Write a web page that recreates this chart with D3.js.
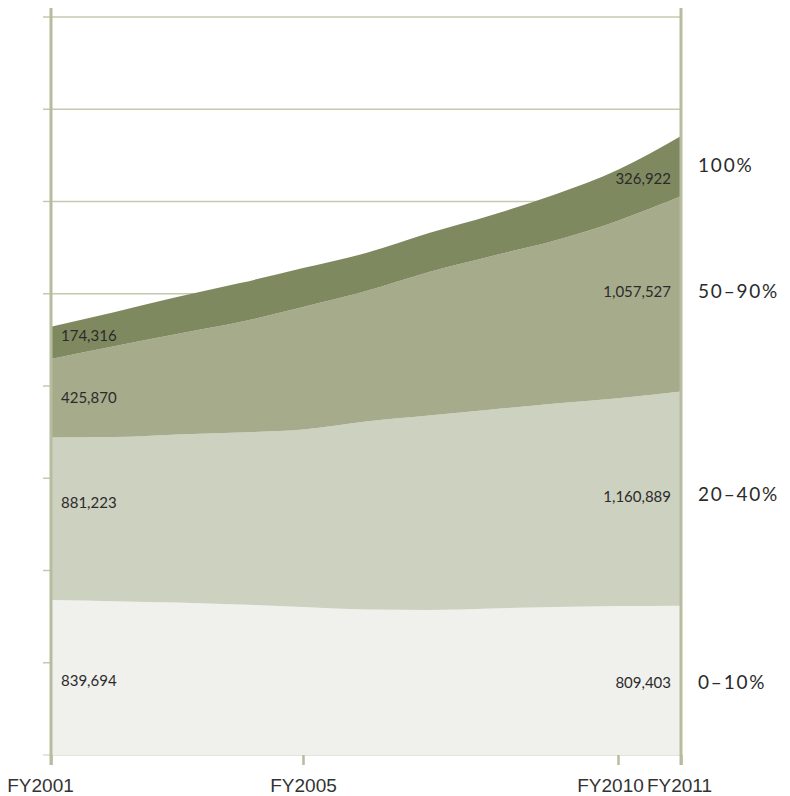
<!DOCTYPE html>
<html>
<head>
<meta charset="utf-8">
<script src="https://cdn.jsdelivr.net/npm/d3@7"></script>
<style>
  html, body { margin: 0; padding: 0; background: #fff; }
  svg { display: block; font-family: Lato, "Open Sans", sans-serif; }
</style>
</head>
<body>
<svg id="chart" width="790" height="796"></svg>
<script>
// Fiscal years on the x axis
const years = [2001, 2002, 2003, 2004, 2005, 2006, 2007, 2008, 2009, 2010, 2011];
const yearTicks = [2001, 2005, 2010, 2011];

// Tier names, bottom to top
const tiers = ["0–10%", "20–40%", "50–90%", "100%"];

// Counts per tier for each fiscal year
const tier0to10   = [839694, 834000, 826500, 815700, 802000, 788600, 786000, 794000, 802000, 807000, 809403];
const tier20to40  = [881223, 889000, 911000, 932000, 962000, 1019000, 1054000, 1079000, 1103000, 1127000, 1160889];
const tier50to90  = [425870, 493000, 545000, 599000, 664000, 707000, 778000, 832000, 883000, 962000, 1057527];
const tier100     = [174316, 184000, 200000, 211000, 211000, 206000, 211000, 222000, 250000, 276000, 326922];

const yMax = 4000000;
const yStep = 500000;

const colors = ["#f0f1ec", "#cdd1bf", "#a6ab8c", "#7f8960"];

// Assemble rows for the stack layout
const rows = years.map((yr, i) => ({
  year: yr,
  [tiers[0]]: tier0to10[i],
  [tiers[1]]: tier20to40[i],
  [tiers[2]]: tier50to90[i],
  [tiers[3]]: tier100[i]
}));

const svg = d3.select("#chart");
const margin = { top: 17, right: 109, bottom: 41, left: 51 };
const W = +svg.attr("width") - margin.left - margin.right;
const H = +svg.attr("height") - margin.top - margin.bottom;
const g = svg.append("g").attr("transform", `translate(${margin.left},${margin.top})`);

const x = d3.scaleLinear().domain([2001, 2011]).range([0, W]);
const y = d3.scaleLinear().domain([0, yMax]).range([H, 0]);

const stacked = d3.stack().keys(tiers)(rows);

// Horizontal gridlines with short ticks to the left of the axis
const gridVals = d3.range(0, yMax + 1, yStep);
g.append("g").selectAll("line").data(gridVals).join("line")
  .attr("x1", -8).attr("x2", W)
  .attr("y1", d => y(d)).attr("y2", d => y(d))
  .attr("stroke", d => d === 0 ? "#d9dccd" : "#c5c9b0")
  .attr("stroke-width", 1.5);

// Stacked areas
const area = d3.area()
  .x(d => x(d.data.year))
  .y0(d => y(d[0]))
  .y1(d => y(d[1]))
  .curve(d3.curveMonotoneX);

g.append("g").selectAll("path").data(stacked).join("path")
  .attr("d", area)
  .attr("fill", (d, i) => colors[i]);

// Bottom axis with fiscal-year labels
const labelShift = { 2001: -11, 2005: 0, 2010: -8, 2011: -2 };
const xAxis = g.append("g")
  .attr("transform", `translate(0,${H})`)
  .call(d3.axisBottom(x).tickValues(yearTicks).tickFormat(d => "FY" + d).tickSize(10).tickPadding(14));
xAxis.select(".domain").remove();
xAxis.selectAll(".tick line").attr("stroke", "#b7bc9f").attr("stroke-width", 2.5);
xAxis.selectAll(".tick text")
  .attr("fill", "#333")
  .style("font-size", "19px")
  .attr("dx", d => labelShift[d]);

// Heavy vertical rules at the first and last fiscal year
g.append("g").selectAll("line").data([2001, 2011]).join("line")
  .attr("x1", d => x(d)).attr("x2", d => x(d))
  .attr("y1", -9).attr("y2", H + 10)
  .attr("stroke", "#b7bc9f")
  .attr("stroke-width", 3);

// Value labels at each end of every band
const fmt = d3.format(",");
const leftNudge = [3, -16, 0, -7];
const rightNudge = [2, -2, -2, 13];
const labels = g.append("g").style("font-size", "15px").attr("fill", "#2b2b2b");
stacked.forEach((s, i) => {
  const first = s[0], last = s[s.length - 1];
  labels.append("text")
    .attr("x", x(first.data.year) + 10)
    .attr("y", (y(first[0]) + y(first[1])) / 2 + leftNudge[i])
    .attr("dy", "0.35em")
    .text(fmt(first.data[s.key]));
  labels.append("text")
    .attr("x", x(last.data.year) - 10)
    .attr("y", (y(last[0]) + y(last[1])) / 2 + rightNudge[i])
    .attr("dy", "0.35em")
    .attr("text-anchor", "end")
    .text(fmt(last.data[s.key]));
});

// Tier names to the right of the chart
const tierNudge = [0, -2, -1, -14];
g.append("g").selectAll("text").data(stacked).join("text")
  .attr("x", W + 17)
  .attr("y", (s, i) => {
    const last = s[s.length - 1];
    return (y(last[0]) + y(last[1])) / 2 + rightNudge[i] + tierNudge[i];
  })
  .attr("dy", "0.35em")
  .attr("fill", "#2b2b2b")
  .style("font-size", "19px")
  .style("letter-spacing", "1.8px")
  .text(s => s.key);
</script>
</body>
</html>
